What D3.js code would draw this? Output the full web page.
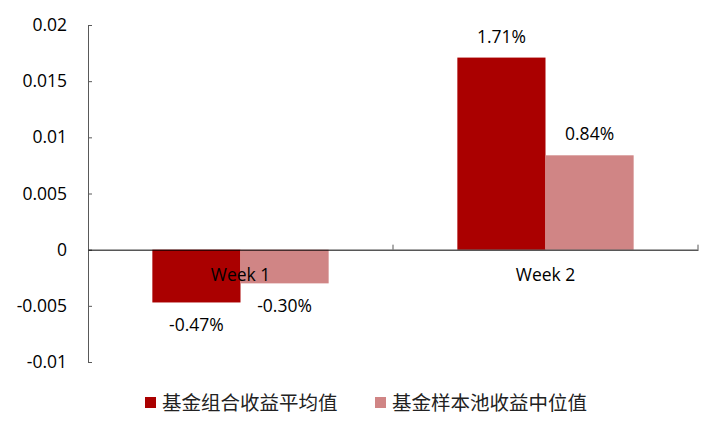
<!DOCTYPE html>
<html><head><meta charset="utf-8">
<script src="https://cdn.jsdelivr.net/npm/d3@7"></script>
<style>body{margin:0;background:#fff}</style>
</head><body>
<svg id="c" width="711" height="426"></svg>
<script>
const categories = ["Week 1", "Week 2"];
const seriesNames = ["基金组合收益平均值", "基金样本池收益中位值"];
const portfolioAvg = [-0.0047, 0.0171];
const poolMedian = [-0.0030, 0.0084];
const yTicks = [-0.01, -0.005, 0, 0.005, 0.01, 0.015, 0.02];
const colors = ["#AA0000", "#D08585"];

const svg = d3.select("#c");
const font = "'Open Sans', 'Liberation Sans', sans-serif";
const fs = 17.5;
const loc = d3.formatLocale({decimal: ".", thousands: ",", grouping: [3], currency: ["", ""], minus: "-"});
const y = d3.scaleLinear().domain([-0.01, 0.02]).range([362, 25]);
const x = d3.scaleBand().domain(categories).range([88, 698]).paddingInner(0).paddingOuter(0);
const inner = d3.scaleBand().domain([0,1]).range([0, x.bandwidth()]).paddingInner(0).paddingOuter(0.73);

const series = [portfolioAvg, poolMedian];

// bars
series.forEach((vals, si) => {
  svg.append("g").selectAll("rect").data(vals).join("rect")
    .attr("x", (d,i) => x(categories[i]) + inner(si))
    .attr("width", inner.bandwidth())
    .attr("y", d => y(Math.max(0,d)))
    .attr("height", d => Math.abs(y(d) - y(0)))
    .attr("fill", colors[si]);
});

// y axis
const yAxis = d3.axisLeft(y).tickValues(yTicks).tickSize(-4).tickPadding(21)
  .tickFormat(d => d === 0 ? "0" : loc.format("")(+d.toFixed(3)));
const gy = svg.append("g").attr("transform", "translate(88,0)").call(yAxis);
gy.select(".domain").attr("stroke", "#595959").attr("d", "M4,25.5H0.5V362.5H4");
gy.selectAll(".tick line").attr("stroke", "#595959");
gy.selectAll("text").attr("font-family", font).attr("font-size", fs).attr("fill", "#000");

// x axis at zero
const xAxis = d3.axisBottom(x).tickValues([]).tickSizeOuter(0);
const gx = svg.append("g").attr("transform", `translate(0,${y(0)})`).call(xAxis);
gx.select(".domain").attr("stroke", "#000");
const bounds = [x.range()[0] + x.bandwidth(), x.range()[1]];
gx.selectAll(".sep").data(bounds).join("line").attr("class","sep")
  .attr("x1", d => d).attr("x2", d => d).attr("y1", 0).attr("y2", -5).attr("stroke", "#595959");
gx.selectAll(".cat").data(categories).join("text").attr("class","cat")
  .attr("x", d => x(d) + x.bandwidth()/2).attr("y", 31)
  .attr("text-anchor", "middle").attr("font-family", font).attr("font-size", fs)
  .attr("fill", "#000").text(d => d);

// value labels
const pct = loc.format(".2%");
series.forEach((vals, si) => {
  svg.append("g").selectAll("text").data(vals).join("text")
    .attr("x", (d,i) => x(categories[i]) + inner(si) + inner.bandwidth()/2)
    .attr("y", d => d >= 0 ? y(d) - 15 : y(d) + 29)
    .attr("text-anchor", "middle").attr("font-family", font).attr("font-size", fs)
    .attr("fill", "#000").text(d => pct(d));
});

// legend
const lg = svg.append("g");
const legX = [145, 375];
seriesNames.forEach((n, i) => {
  lg.append("rect").attr("x", legX[i]).attr("y", 397).attr("width", 11).attr("height", 11).attr("fill", colors[i]);
  lg.append("text").attr("x", legX[i] + 17).attr("y", 410)
    .attr("font-family", "'Noto Sans CJK SC', sans-serif").attr("font-size", 19.5).attr("fill", "#222").text(n);
});
</script>
</body></html>
